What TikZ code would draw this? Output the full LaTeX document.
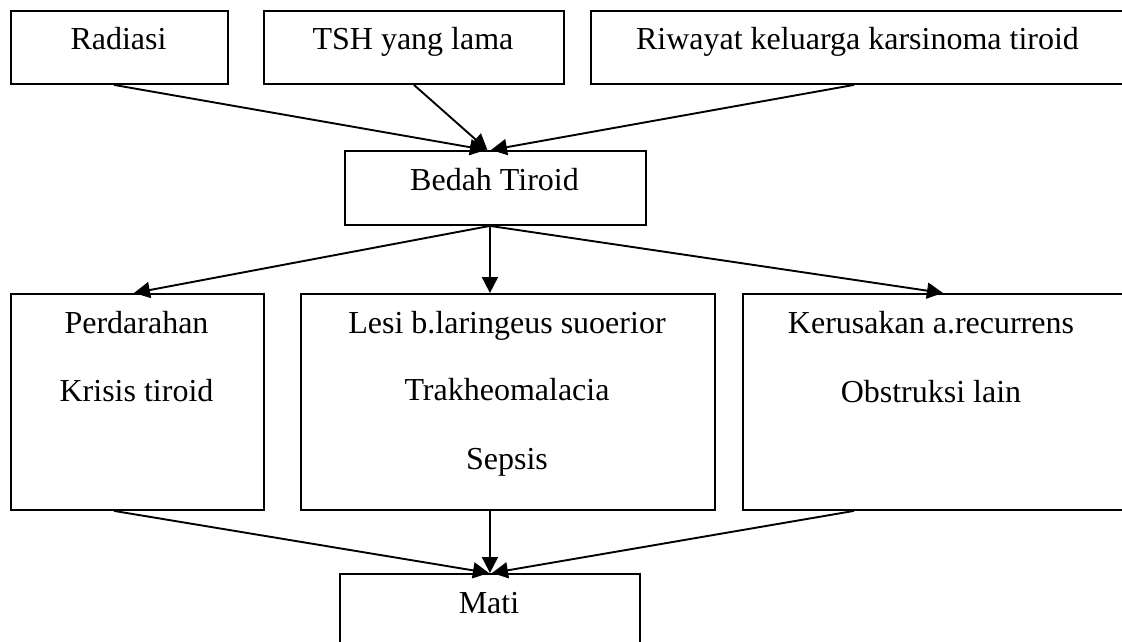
\documentclass[tikz,border=0pt]{standalone}
\usepackage{fontspec}
\setmainfont{Liberation Serif}
\usetikzlibrary{arrows.meta}
\begin{document}
\begin{tikzpicture}[x=1pt,y=-1pt,
  box/.style={draw, line width=1.9pt, inner sep=0pt, anchor=north west},
  txt/.style={anchor=base, inner sep=0pt, font=\fontsize{32}{38}\selectfont},
  arr/.style={line width=1.9pt, -{Triangle[length=16pt,width=16pt]}}]
\useasboundingbox (0,0) rectangle (1122,642);
\clip (0,0) rectangle (1122,642);
% top row
\node[box, minimum width=217pt, minimum height=73pt] (radiasi) at (10,10) {};
\node[box, minimum width=300pt, minimum height=73pt] (tsh) at (263,10) {};
\node[box, minimum width=540pt, minimum height=73pt] (riwayat) at (590,10) {};
\node[txt] (tradiasi) at (118.5,50) {Radiasi};
\node[txt] (ttsh) at (413,50) {TSH yang lama};
\node[txt] (triwayat) at (857.5,50) {Riwayat keluarga karsinoma tiroid};
% bedah
\node[box, minimum width=301pt, minimum height=74pt] (bedah) at (344,150) {};
\node[txt] (tbedah) at (494.5,190) {Bedah Tiroid};
% middle row
\node[box, minimum width=253pt, minimum height=216pt] (perd) at (10,293) {};
\node[box, minimum width=414pt, minimum height=216pt] (lesi) at (300,293) {};
\node[box, minimum width=388pt, minimum height=216pt] (kerus) at (742,293) {};
\node[txt] (t1) at (136.5,333) {Perdarahan};
\node[txt] (t2) at (136.5,401) {Krisis tiroid};
\node[txt] (t3) at (507,333) {Lesi b.laringeus suoerior};
\node[txt] (t4) at (507,400) {Trakheomalacia};
\node[txt] (t5) at (507,469) {Sepsis};
\node[txt] (t6) at (931,333) {Kerusakan a.recurrens};
\node[txt] (t7) at (931,402) {Obstruksi lain};
% mati
\node[box, minimum width=300pt, minimum height=100pt] (mati) at (339,573) {};
\node[txt] (tmati) at (489,613) {Mati};
% connectors top
\draw[arr] ([xshift=-5.5pt]radiasi.south) -- ([xshift=-9.5pt]bedah.north);
\draw[arr] (tsh.south) -- ([xshift=-8pt]bedah.north);
\draw[arr] ([xshift=-7pt]riwayat.south) -- ([xshift=-4.5pt]bedah.north);
% connectors middle
\draw[arr] ([xshift=-5.5pt]bedah.south) -- ([xshift=-3.5pt]perd.north);
\draw[arr] ([xshift=-5.5pt]bedah.south) -- ([xshift=-18pt]lesi.north);
\draw[arr] ([xshift=-5.5pt]bedah.south) -- ([xshift=6pt]kerus.north);
% connectors bottom
\draw[arr] ([xshift=-23.5pt]perd.south) -- ([xshift=-1pt]mati.north);
\draw[arr] ([xshift=-18pt]lesi.south) -- (mati.north);
\draw[arr] ([xshift=-83pt]kerus.south) -- ([xshift=2pt]mati.north);
\end{tikzpicture}
\end{document}
